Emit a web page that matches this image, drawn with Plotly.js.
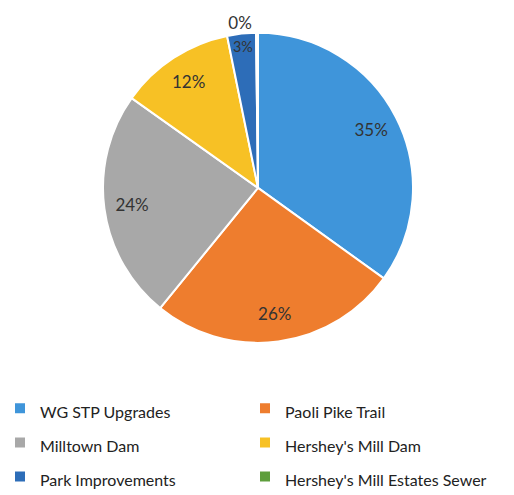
<!DOCTYPE html>
<html><head><meta charset="utf-8">
<script src="https://cdn.plot.ly/plotly-3.0.1.min.js"></script>
<style>html,body{margin:0;padding:0;background:#fff}#chart{width:514px;height:495px}</style>
</head><body><div id="chart"></div>
<script>
const categories = ["WG STP Upgrades", "Paoli Pike Trail", "Milltown Dam", "Hershey's Mill Dam", "Park Improvements", "Hershey's Mill Estates Sewer"];
const shares = [35, 26, 24, 12, 3, 0.2];
const colors = ["#3F95DA", "#EE7D2E", "#A8A8A8", "#F7C125", "#2D6DB8", "#5E9E3C"];
const textPositions = ["inside", "inside", "inside", "inside", "inside", "outside"];

const legendLabels = categories.map(c => '<span style="font-size:16px">' + c + '</span>');
const pieDomain = {x: [0.2004, 0.8035], y: [0.267, 0.974]};

// Filled slices (no text)
const slices = {
  type: "pie",
  labels: legendLabels,
  values: shares,
  sort: false,
  direction: "clockwise",
  rotation: 0,
  marker: {colors: colors, line: {color: "#ffffff", width: 2}},
  textinfo: "none",
  hoverinfo: "label+percent",
  domain: pieDomain
};

// Transparent ring carrying the percentage labels near the rim
const labelsRing = {
  type: "pie",
  labels: legendLabels,
  values: shares,
  sort: false,
  direction: "clockwise",
  rotation: 0,
  hole: 0.64,
  showlegend: false,
  marker: {colors: colors.map(() => "rgba(0,0,0,0)"), line: {width: 0}},
  texttemplate: "%{percent:.0%}",
  textposition: textPositions,
  insidetextorientation: "horizontal",
  textfont: {family: "Lato, Liberation Sans, sans-serif", size: 17, color: "#333333"},
  outsidetextfont: {family: "Lato, Liberation Sans, sans-serif", size: 17, color: "#333333"},
  hoverinfo: "skip",
  domain: pieDomain
};

const layout = {
  width: 514, height: 495,
  margin: {l: 0, r: 0, t: 0, b: 0, autoexpand: false},
  paper_bgcolor: "#ffffff",
  showlegend: true,
  legend: {
    orientation: "h",
    x: 0, y: 0.22, xanchor: "left", yanchor: "top",
    entrywidth: 200, entrywidthmode: "pixels",
    font: {family: "Lato, Liberation Sans, sans-serif", size: 24, color: "#222222"},
    itemwidth: 30,
    traceorder: "normal"
  }
};
Plotly.newPlot("chart", [slices, labelsRing], layout, {displayModeBar: false, staticPlot: true});
</script></body></html>
